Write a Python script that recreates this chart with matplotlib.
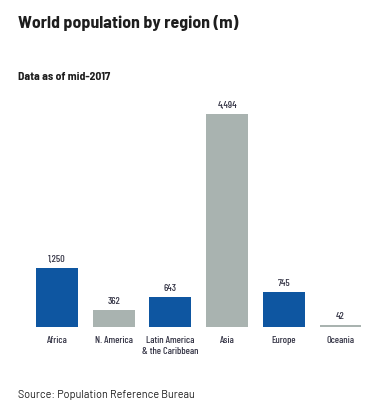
import matplotlib
matplotlib.use("Agg")
import matplotlib.pyplot as plt
from matplotlib import font_manager

regions = ["Africa", "N. America", "Latin America\n& the Caribbean", "Asia", "Europe", "Oceania"]
population = [1250, 362, 643, 4494, 745, 42]
value_labels = ["1,250", "362", "643", "4,494", "745", "42"]
colors = ["#0E56A1", "#A9B3B0", "#0E56A1", "#A9B3B0", "#0E56A1", "#A9B3B0"]

names = {f.name for f in font_manager.fontManager.ttflist}
def pick(*cands):
    for c in cands:
        if c in names:
            return c
    return "DejaVu Sans"

title_font = pick("Barlow Semi Condensed", "Barlow", "Asap Condensed")
label_font = pick("Barlow Condensed", "Asap Condensed", "Archivo Narrow")
text_font = pick("Barlow", "Barlow Semi Condensed", "Asap")

W, H = 378, 410
fig = plt.figure(figsize=(W / 100, H / 100), dpi=100)
ax = fig.add_axes([28.65 / W, (H - 328) / H, (368.85 - 28.65) / W, 218 / H])

x = list(range(len(regions)))
ax.bar(x, population, width=0.74, color=colors)
ax.set_xlim(-0.5, len(regions) - 0.5)
ax.set_ylim(0, 4600)
for s in ax.spines.values():
    s.set_visible(False)
ax.set_yticks([])
ax.set_xticks(x)
ax.set_xticklabels(regions, fontsize=7.3, family=label_font, fontweight="medium",
                   color="#333344", linespacing=1.2)
ax.tick_params(axis="x", length=0, pad=6)
for xi, v, lab in zip(x, population, value_labels):
    ax.annotate(lab, (xi, v), xytext=(0, 3.5), textcoords="offset points",
                ha="center", va="bottom", fontsize=7.3, family=label_font,
                fontweight="medium", color="#333344")

fig.text(18 / W, 1 - 28 / H, "World population by region (m)", fontsize=12.8,
         fontweight="bold", family=title_font, color="#1e1e1e", va="baseline")
fig.text(18 / W, 1 - 80 / H, "Data as of mid-2017", fontsize=8.4,
         fontweight="bold", family=title_font, color="#1e1e1e", va="baseline")
fig.text(18 / W, 1 - 398 / H, "Source: Population Reference Bureau", fontsize=7.8,
         family=text_font, color="#1e1e1e", va="baseline")

fig.savefig("out.png", dpi=100)
